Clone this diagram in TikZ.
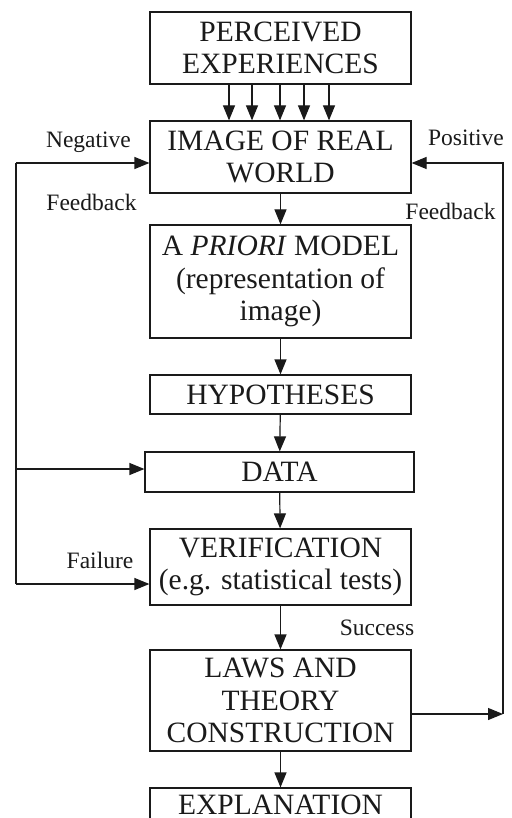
\documentclass[tikz,border=0pt]{standalone}
\usepackage{fontspec}
\setmainfont{Liberation Serif}
\usetikzlibrary{positioning, calc, arrows.meta}
\definecolor{Ink}{HTML}{1A1A1A}
\tikzset{
    stagebox/.style={rectangle, draw=Ink, line width=1.2pt, text=Ink, align=center, inner sep=0pt,
        minimum width=261pt, font=\fontsize{29.5}{32.5}\selectfont},
    arrow/.style={-{Triangle[length=15pt, width=12pt]}, line width=1.2pt, color=Ink},
    link/.style={line width=1.2pt, color=Ink},
    sidelabel/.style={text=Ink, inner sep=0pt, anchor=base, font=\fontsize{23.5}{27}\selectfont},
}
\begin{document}
\begin{tikzpicture}[x=1pt, y=-1pt]
    % Area visibile (come nell'originale, l'ultimo riquadro e' tagliato)
    \clip (0,0) rectangle (511,818);
    \fill[white] (0,0) rectangle (511,818);

    % Riquadri del processo
    \node[stagebox, minimum height=72pt] (perceived) at (280.5,48) {PERCEIVED\\EXPERIENCES};
    \node[stagebox, minimum height=72pt] (image) at (280.5,157) {IMAGE OF REAL\\WORLD};
    \node[stagebox, minimum height=113pt] (model) at (280.5,281.5) {A \textit{PRIORI} MODEL\\(representation of\\image)};
    \node[stagebox, minimum height=39pt] (hypo) at (280.5,394.5) {HYPOTHESES};
    \node[stagebox, minimum height=40pt, minimum width=269pt] (data) at (279.5,472) {DATA};
    \node[stagebox, minimum height=76pt] (verif) at (280.5,567) {VERIFICATION\\(e.g. statistical tests)};
    \node[stagebox, minimum height=101pt] (laws) at (280.5,700.5) {LAWS AND\\THEORY\\CONSTRUCTION};
    \node[stagebox, minimum height=34pt] (expl) at (280.5,805) {EXPLANATION};

    % Esperienze -> immagine (cinque frecce)
    \foreach \px in {229,252,280,304,329}
        \draw[arrow] (\px,0 |- perceived.south) -- (\px,0 |- image.north);

    % Catena principale
    \draw[arrow] (image) -- (model);
    \draw[arrow] (model) -- (hypo);
    \draw[arrow] (hypo) -- (data);
    \draw[arrow] (data) -- (verif);
    \draw[arrow] (verif) -- (laws);
    \draw[arrow] (laws) -- (expl);

    % Feedback negativo (sinistra)
    \coordinate (negtop) at (16,163);
    \coordinate (negdata) at (16,469);
    \coordinate (negbot) at (16,584);
    \draw[link] (negtop) -- (negbot);
    \draw[arrow] (negtop) -- (negtop -| image.west);
    \draw[arrow] (negdata) -- (negdata -| data.west);
    \draw[arrow] (negbot) -- (negbot -| verif.west);

    % Feedback positivo (destra)
    \coordinate (postop) at (503,163);
    \coordinate (posbot) at (503,714);
    \draw[arrow] (posbot -| laws.east) -- (posbot);
    \draw[arrow] (posbot) -- (postop) -- (postop -| image.east);

    % Etichette
    \node[sidelabel] (neglbl) at (88.5,148) {Negative};
    \node[sidelabel] (negfb) at (91.5,211) {Feedback};
    \node[sidelabel] (poslbl) at (466,146) {Positive};
    \node[sidelabel] (posfb) at (450.5,219) {Feedback};
    \node[sidelabel] (faillbl) at (100,568) {Failure};
    \node[sidelabel] (succlbl) at (377,635) {Success};
\end{tikzpicture}
\end{document}
